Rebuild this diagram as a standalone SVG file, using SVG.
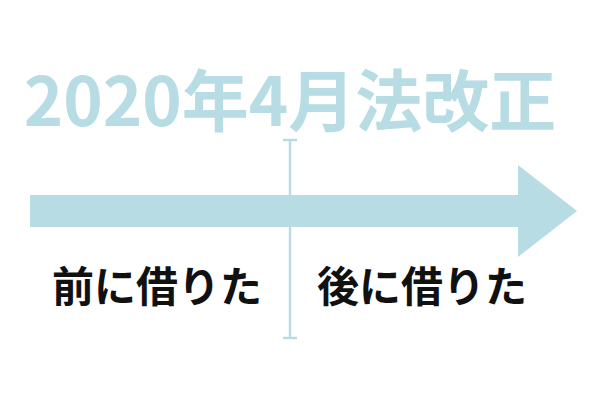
<svg xmlns="http://www.w3.org/2000/svg" width="600" height="400" viewBox="0 0 600 400">
<style>
.t{font-family:"Noto Sans CJK JP","Noto Sans",sans-serif;font-weight:bold}
.c{fill:#b8dce4;stroke:#b8dce4}
</style>
<rect width="600" height="400" fill="#fff"/>
<g id="title"><text class="t" x="290" y="126" font-size="67" fill="#b8dce4" text-anchor="middle">2020年4月法改正</text></g>
<g id="connectors">
<polygon class="c" stroke-width="0" points="30,195 518,195 518,165 577,211 518,257 518,227 30,227"/>
<line x1="290" y1="140" x2="290" y2="338" stroke="#b8dce4" stroke-width="2.5"/>
<line x1="283" y1="140" x2="297" y2="140" stroke="#b8dce4" stroke-width="2.5"/>
<line x1="283" y1="338" x2="297" y2="338" stroke="#b8dce4" stroke-width="2.5"/>
</g>
<g id="before"><text class="t" x="157" y="302" font-size="42" text-anchor="middle" fill="#111">前に借りた</text></g>
<g id="after"><text class="t" x="422" y="302" font-size="42" text-anchor="middle" fill="#111">後に借りた</text></g>
</svg>
